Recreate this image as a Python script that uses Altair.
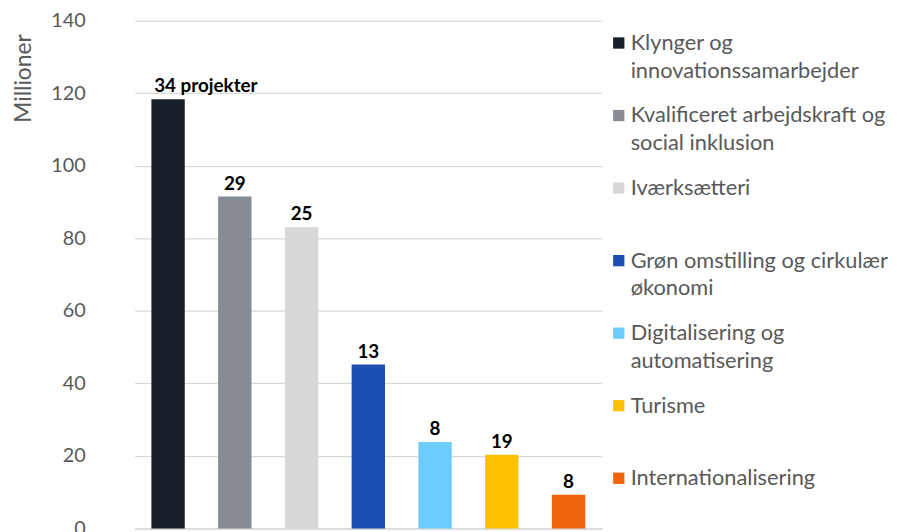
import altair as alt
import pandas as pd

categories = [
    "Klynger og innovationssamarbejder",
    "Kvalificeret arbejdskraft og social inklusion",
    "Iværksætteri",
    "Grøn omstilling og cirkulær økonomi",
    "Digitalisering og automatisering",
    "Turisme",
    "Internationalisering",
]
legend_labels = [
    "Klynger og\ninnovationssamarbejder",
    "Kvalificeret arbejdskraft og\nsocial inklusion",
    "Iværksætteri",
    "Grøn omstilling og cirkulær\nøkonomi",
    "Digitalisering og\nautomatisering",
    "Turisme",
    "Internationalisering",
]
values = [118.3, 91.5, 83.0, 45.2, 23.8, 20.3, 9.3]
bar_labels = ["34 projekter", "29", "25", "13", "8", "19", "8"]
colors = ["#172029", "#868c91", "#d8d8da", "#1d4fb2", "#6ccdfc", "#ffc000", "#f0650b"]
y_ticks = [0, 20, 40, 60, 80, 100, 120, 140]

df = pd.DataFrame({
    "cat": categories,
    "legend": legend_labels,
    "value": values,
    "label": bar_labels,
    "first": [i == 0 for i in range(len(categories))],
})

FONT = "Lato"
GRAY = "#595959"
color_scale = alt.Scale(domain=categories, range=colors)

x_enc = alt.X(
    "cat:N", sort=categories, title=None,
    scale=alt.Scale(paddingInner=0.5, paddingOuter=0.25),
    axis=alt.Axis(labels=False, ticks=False, domainColor="#d9d9d9", domainWidth=1.5),
)
y_enc = alt.Y(
    "value:Q",
    scale=alt.Scale(domain=[0, 140], nice=False),
    axis=alt.Axis(
        values=y_ticks, title="Millioner", ticks=False, domain=False,
        gridColor="#d9d9d9", gridWidth=1.3,
        labelFont=FONT, labelFontSize=20, labelColor=GRAY, labelPadding=50,
        titleFont=FONT, titleFontSize=23, titleFontWeight="normal", titleColor=GRAY,
        titleX=-105, titleY=58, titleAlign="center", titleBaseline="alphabetic",
    ),
)

base = alt.Chart(df).encode(x=x_enc, y=y_enc)
bars = base.mark_bar().encode(
    color=alt.Color("cat:N", scale=color_scale, legend=None)
)
labels_center = base.transform_filter("!datum.first").mark_text(
    font=FONT, fontSize=19, fontWeight="bold", color="#000000",
    baseline="bottom", dy=-3,
).encode(text="label:N")
labels_first = base.transform_filter("datum.first").mark_text(
    font=FONT, fontSize=19, fontWeight="bold", color="#000000",
    baseline="bottom", align="left", dx=-14, dy=-3,
).encode(text="label:N")

bar_chart = alt.layer(bars, labels_center, labels_first).properties(width=472, height=513)

leg_y = alt.Y(
    "cat:N", sort=categories, title=None, axis=None,
    scale=alt.Scale(paddingInner=0, paddingOuter=0),
)
leg_base = alt.Chart(df).encode(y=leg_y)
leg_sq = leg_base.mark_square(size=130, opacity=1, yOffset=-14).encode(
    x=alt.value(17),
    color=alt.Color("cat:N", scale=color_scale, legend=None),
)
leg_txt = leg_base.mark_text(
    font=FONT, fontSize=22, color=GRAY, align="left", baseline="alphabetic",
    lineBreak="\n", lineHeight=28, dy=-7,
).encode(x=alt.value(29), text="legend:N")
legend_panel = alt.layer(leg_sq, leg_txt).properties(width=282, height=513)

chart = alt.hconcat(bar_chart, legend_panel, spacing=0).properties(
    padding={"left": 5, "top": 0, "right": 0, "bottom": 0}
).configure_view(stroke=None)

chart.save("out.html", embed_options={"renderer": "svg", "actions": False})
